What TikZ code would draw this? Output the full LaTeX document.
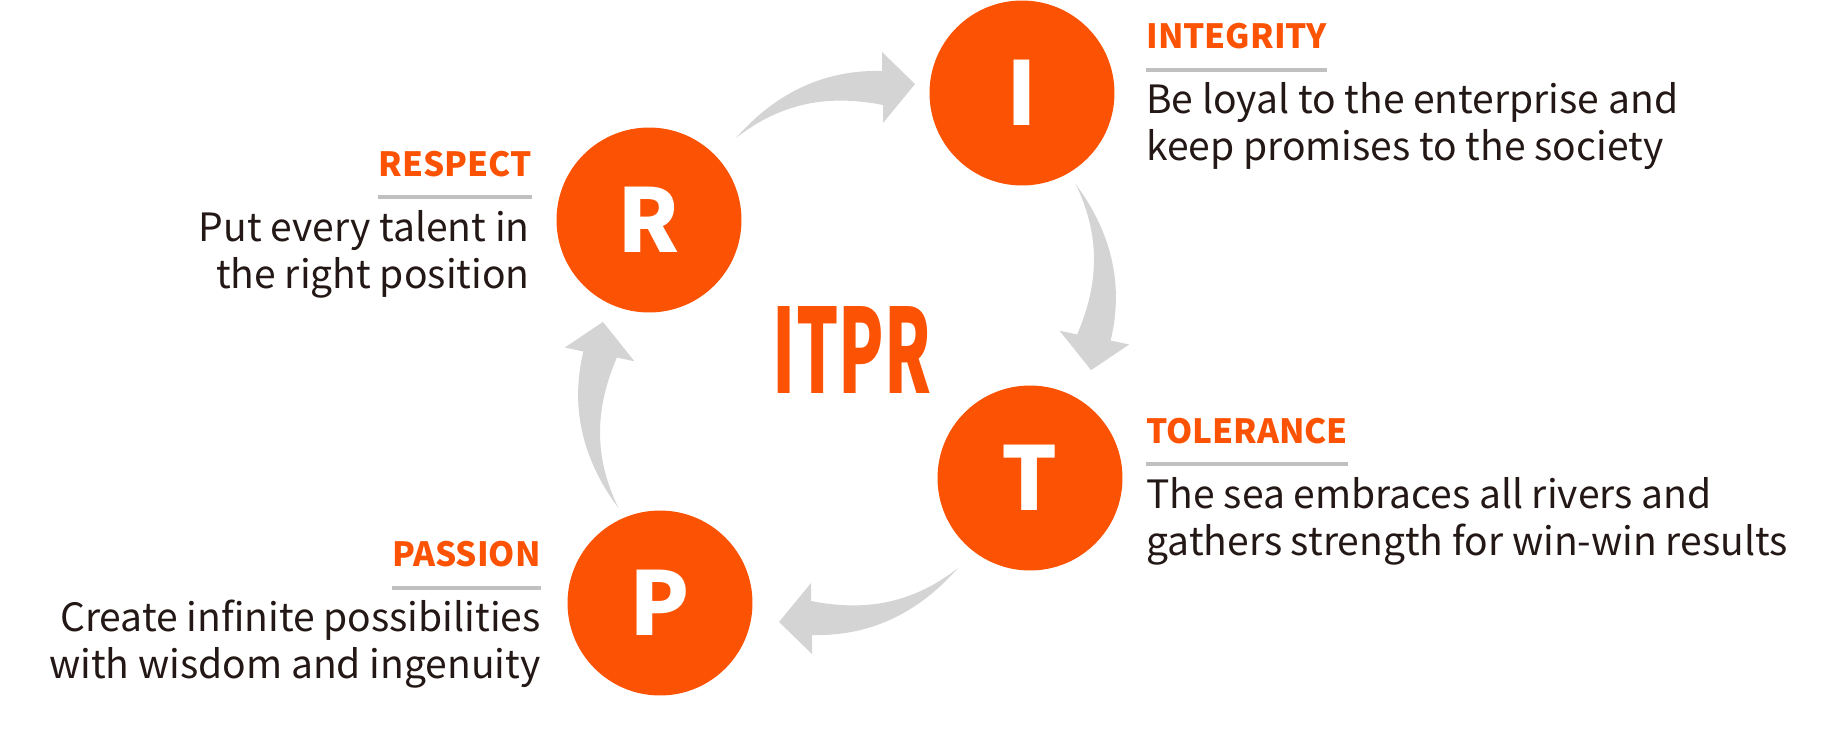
\documentclass[tikz,border=0pt]{standalone}
\usepackage{fontspec}
\setmainfont{Noto Sans CJK SC}
\definecolor{itprorange}{RGB}{252,82,3}
\definecolor{arrowgray}{RGB}{212,212,212}
\definecolor{rulegray}{RGB}{192,192,192}
\definecolor{bodyink}{RGB}{35,24,21}
\begin{document}
\begin{tikzpicture}[x=0.02cm, y=0.02cm,
	letter/.style={circle, fill=itprorange, text=white, minimum size=3.7cm, inner sep=0pt, font=\fontsize{50}{50}\selectfont\bfseries},
	heading/.style={inner sep=0pt, text=itprorange, font=\fontsize{19}{19}\selectfont\bfseries},
	motto/.style={inner sep=0pt, text=bodyink, align=left, font=\fontsize{22.2}{26.7}\selectfont},
	underline/.style={rulegray, line width=2.3pt},
	fatarrow/.pic={
		\fill[arrowgray] (0,17) .. controls (-40,18) and (-95,8) .. (-146,-50)
			.. controls (-95,-10) and (-45,-8) .. (1,-17) -- (1,-35) -- (33,4) -- (0,36) -- cycle;
	}]
	\useasboundingbox (0,0) rectangle (1838,-747);
	
	\node[letter] (I) at (1022,-93) {I};
	\node[letter] (T) at (1030,-478) {T};
	\node[letter] (P) at (660,-603) {P};
	\node[letter] (R) at (649,-220) {R};
	
	\node[text=itprorange, inner sep=0pt, font=\bfseries] (itpr) at (852,-350) {\resizebox{90pt}{49.5pt}{ITPR}};
	
	\pic[rotate=0] at ([shift={(-140,5)}]I.center) {fatarrow};
	\pic[rotate=-102] at ([shift={(64,141)}]T.center) {fatarrow};
	\pic[rotate=180] at ([shift={(152,-15)}]P.center) {fatarrow};
	\pic[rotate=78] at ([shift={(-49,-135)}]R.center) {fatarrow};
	
	\node[heading, anchor=base west] (integrity) at (1146,-48) {INTEGRITY};
	\draw[underline] ([shift={(0,-22)}]integrity.base west) -- ([shift={(0,-22)}]integrity.base east);
	\node[motto, anchor=base west] (loyal) at (1146,-160) {Be loyal to the enterprise and\\keep promises to the society};
	
	\node[heading, anchor=base west] (tolerance) at (1146,-443) {TOLERANCE};
	\draw[underline] ([shift={(0,-21)}]tolerance.base west) -- ([shift={(0,-21)}]tolerance.base east);
	\node[motto, anchor=base west] (sea) at (1146,-555) {The sea embraces all rivers and\\gathers strength for win-win results};
	
	\node[heading, anchor=base east] (respect) at (532,-176) {RESPECT};
	\draw[underline] ([shift={(0,-21)}]respect.base west) -- ([shift={(0,-21)}]respect.base east);
	\node[motto, anchor=base east, align=right] (talent) at (530,-288) {Put every talent in\\the right position};
	
	\node[heading, anchor=base east] (passion) at (541,-566) {PASSION};
	\draw[underline] ([shift={(0,-22)}]passion.base west) -- ([shift={(0,-22)}]passion.base east);
	\node[motto, anchor=base east, align=right] (create) at (541,-678) {Create infinite possibilities\\with wisdom and ingenuity};
\end{tikzpicture}
\end{document}
